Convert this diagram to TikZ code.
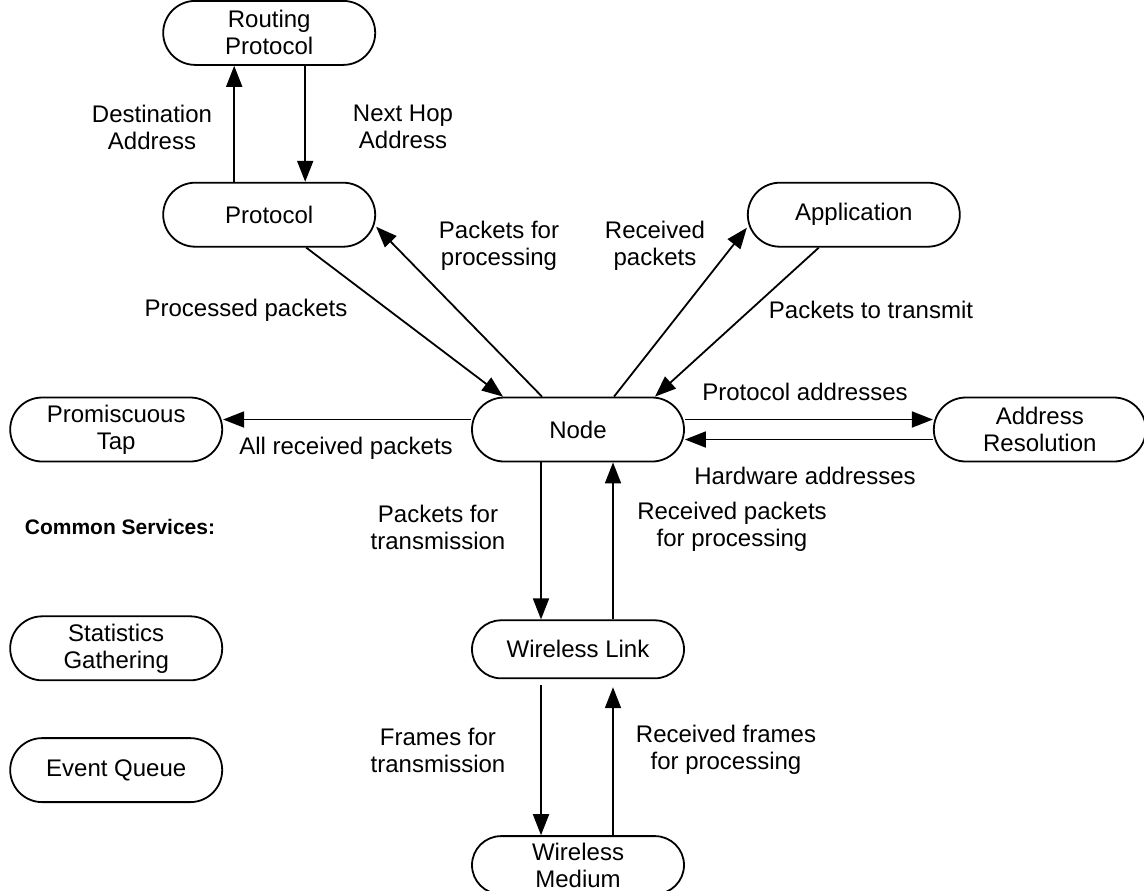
\documentclass[tikz,border=0pt]{standalone}
\usepackage{fontspec}
\setmainfont{Liberation Sans}
\usetikzlibrary{positioning,arrows.meta}

\begin{document}
\begin{tikzpicture}[x=0.5pt, y=-0.5pt, >={Triangle[length=10.5pt,width=8pt]}, line width=0.9pt,
          svc/.style={draw, rounded corners=16pt, minimum width=106pt, minimum height=32pt, inner sep=1pt, font=\fontsize{12}{13.5}\selectfont, align=center},
          wire/.style={svc, rounded corners=14.5pt, minimum height=29pt},
          lbl/.style={inner sep=0pt, font=\fontsize{12}{13.5}\selectfont, align=center}]
        \useasboundingbox (0,0) rectangle (1144,890);
        \node[svc] (nd) at (578,429.5) {Node};
        \node[svc, left=124pt of nd] (tap) {Promiscuous\\Tap};
        \node[svc, right=124pt of nd] (ar) {Address\\Resolution};
        \node[svc, above left=74.5pt and 47.5pt of nd] (pr) {Protocol};
        \node[svc, above right=74.5pt and 31pt of nd] (ap) {Application};
        \node[svc, above=58pt of pr] (rp) {Routing\\Protocol};
        \node[wire, below=78.5pt of nd] (wl) {Wireless Link};
        \node[wire, below=78pt of wl] (wm) {Wireless\\Medium};
        \node[svc, below=76.5pt of tap] (st) {Statistics\\Gathering};
        \node[svc, below=28pt of st] (eq) {Event Queue};
        \node[lbl, font=\fontsize{10.5}{12}\selectfont\bfseries] (cs) at (120,527) {Common Services:};
        \draw[->] ([xshift=-17.5pt]pr.north) -- ([xshift=-17.5pt]rp.south);
        \draw[->] ([xshift=18pt]rp.south) -- ([xshift=18pt]pr.north);
        \draw[->] ([xshift=18.5pt]pr.south) -- ([xshift=-37.5pt]nd.north);
        \draw[->] ([xshift=-18pt]nd.north) -- ([yshift=-6pt]pr.east);
        \draw[->] ([xshift=18pt]nd.north) -- ([yshift=-6.5pt]ap.west);
        \draw[->] ([xshift=-17.5pt]ap.south) -- ([xshift=38.5pt]nd.north);
        \draw[->] ([yshift=5pt]nd.west) -- ([yshift=5pt]tap.east);
        \draw[->] ([yshift=5pt]nd.east) -- ([yshift=5pt]ar.west);
        \draw[->] ([yshift=-5pt]ar.west) -- ([yshift=-5pt]nd.east);
        \draw[->] ([xshift=-18.5pt]nd.south) -- ([xshift=-18.5pt]wl.north);
        \draw[->] ([xshift=17.5pt]wl.north) -- ([xshift=17.5pt]nd.south);
        \draw[->, shorten <=3pt] ([xshift=-18.5pt]wl.south) -- ([xshift=-18.5pt]wm.north);
        \draw[->, shorten >=4pt] ([xshift=17.5pt]wm.north) -- ([xshift=17.5pt]wl.south);
        \node[lbl] (t1) at (152,127) {Destination\\Address};
        \node[lbl] (t2) at (403,127) {Next Hop\\Address};
        \node[lbl] (t3) at (246,310) {Processed packets};
        \node[lbl] (t4) at (499,246) {Packets for\\processing};
        \node[lbl] (t5) at (655,246) {Received\\packets};
        \node[lbl] (t6) at (871,310) {Packets to transmit};
        \node[lbl] (t7) at (346,448) {All received packets};
        \node[lbl] (t8) at (805,392) {Protocol addresses};
        \node[lbl] (t9) at (805,476) {Hardware addresses};
        \node[lbl] (t10) at (438,527) {Packets for\\transmission};
        \node[lbl] (t11) at (732,527) {Received packets\\for processing};
        \node[lbl] (t12) at (438,750) {Frames for\\transmission};
        \node[lbl] (t13) at (726,750) {Received frames\\for processing};
      \end{tikzpicture}
\end{document}
